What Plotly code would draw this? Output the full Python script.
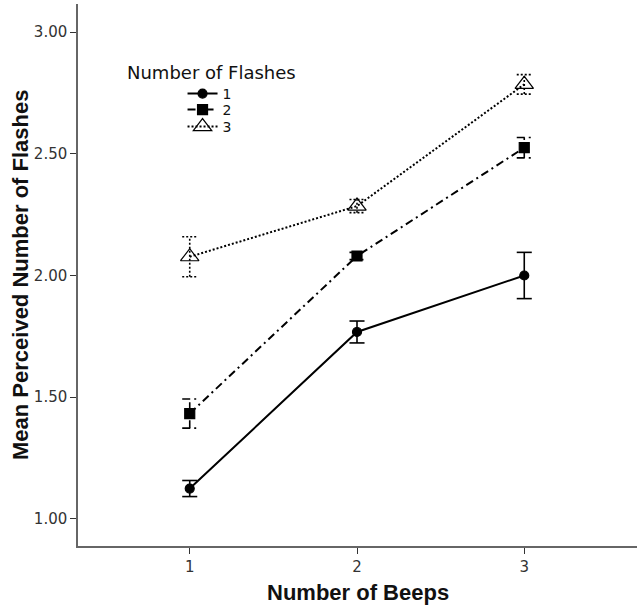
import plotly.graph_objects as go

beeps = [1, 2, 3]
flash_labels = ["1", "2", "3"]
means_1 = [1.125, 1.768, 2.000]
err_1 = [0.033, 0.045, 0.095]
means_2 = [1.433, 2.080, 2.525]
err_2 = [0.060, 0.015, 0.042]
means_3 = [2.077, 2.285, 2.785]
err_3 = [0.082, 0.027, 0.040]

series = [
    (means_1, err_1, "circle", 9, "solid", 2),
    (means_2, err_2, "square", 10, "8px,4px,2px,4px", 2),
    (means_3, err_3, "triangle-up-open", 16, "2px,2px", 2),
]

CAP = 0.045  # half-width of error bar caps, in x units
legend_names = ["legend", "legend2", "legend3"]
legend_rows_px = [94, 110, 127]  # row centres from top of figure
PLOT_TOP, PLOT_BOTTOM = 4, 546

fig = go.Figure()
for (m, e, sym, size, dash, w), lab, lg in zip(series, flash_labels, legend_names):
    ex, ey = [], []
    for xi, mi, ei in zip(beeps, m, e):
        ex += [xi, xi, None, xi - CAP, xi + CAP, None, xi - CAP, xi + CAP, None]
        ey += [mi - ei, mi + ei, None, mi + ei, mi + ei, None, mi - ei, mi - ei, None]
    fig.add_trace(go.Scatter(x=ex, y=ey, mode="lines", showlegend=False,
                             hoverinfo="skip",
                             line=dict(color="black", width=1.6, dash=dash)))
    fig.add_trace(go.Scatter(x=beeps, y=m, name=lab, mode="lines+markers", legend=lg,
                             line=dict(color="black", width=w, dash=dash),
                             marker=dict(symbol=sym, size=size, color="black",
                                         line=dict(color="black", width=1.2))))

legend_common = dict(x=0.187, xanchor="left", yanchor="middle",
                     bgcolor="rgba(0,0,0,0)", font=dict(size=14, color="#111"),
                     itemwidth=30)
legends = {}
for lg, rowpx in zip(legend_names, legend_rows_px):
    legends[lg] = dict(legend_common, y=(PLOT_BOTTOM - rowpx) / (PLOT_BOTTOM - PLOT_TOP))

fig.update_layout(
    width=641, height=611,
    margin=dict(l=78, r=4, t=PLOT_TOP, b=611 - PLOT_BOTTOM),
    plot_bgcolor="white", paper_bgcolor="white",
    font=dict(family="DejaVu Sans", color="#222"),
    showlegend=True,
    annotations=[
        dict(text="Number of Flashes", x=0.0844, y=0.8745, xref="paper", yref="paper",
             xanchor="left", yanchor="middle", showarrow=False,
             font=dict(family="DejaVu Sans", size=18, color="#111")),
        dict(text="<b>Mean Perceived Number of Flashes</b>", x=-58/559, y=0.5,
             xref="paper", yref="paper", textangle=-90, showarrow=False,
             xanchor="center", yanchor="middle",
             font=dict(family="Liberation Sans", size=22, color="#111")),
        dict(text="<b>Number of Beeps</b>", x=0.5, y=-46/542, xref="paper", yref="paper",
             showarrow=False, xanchor="center", yanchor="middle",
             font=dict(family="Liberation Sans", size=22, color="#111")),
    ],
    **legends,
)
fig.update_xaxes(range=[0.332, 3.674], tickvals=beeps, ticktext=["1", "2", "3"],
                 showgrid=False, zeroline=False, showline=True, linecolor="#666",
                 linewidth=1.5, ticks="outside", ticklen=6, tickcolor="#333",
                 tickfont=dict(size=15, color="#333"))
fig.update_yaxes(range=[0.889, 3.115], tickvals=[1, 1.5, 2, 2.5, 3],
                 ticktext=["1.00", "1.50", "2.00", "2.50", "3.00"],
                 showgrid=False, zeroline=False, showline=True, linecolor="#666",
                 linewidth=1.5, ticks="outside", ticklen=6, tickcolor="#333",
                 tickfont=dict(size=15, color="#333"))

fig.write_html("out.html", config={"displayModeBar": False},
               post_script="document.body.style.margin='0';")
